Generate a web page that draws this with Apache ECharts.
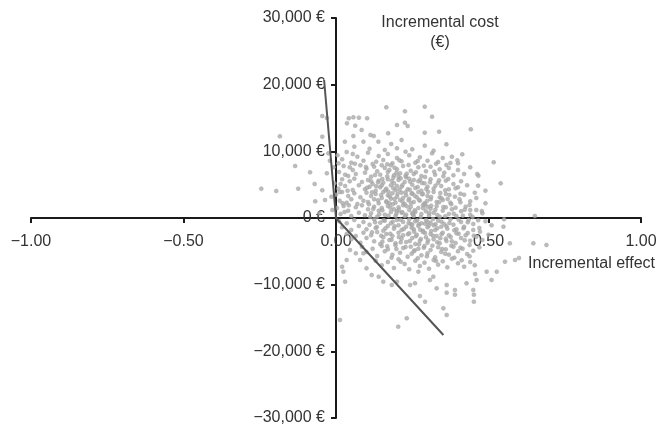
<!DOCTYPE html>
<html>
<head>
<meta charset="utf-8">
<script src="https://cdn.jsdelivr.net/npm/echarts@6/dist/echarts.min.js"></script>
<style>
  html, body { margin: 0; padding: 0; background: #fff; }
  #chart { width: 656px; height: 428px; }
</style>
</head>
<body>
<div id="chart"></div>
<script>
// ticks
const effectTicks = [-1, -0.5, 0, 0.5, 1];
const costTicks = [-30000, -20000, -10000, 0, 10000, 20000, 30000];

// willingness-to-pay / threshold line drawn through the origin
const thresholdLine = [[-0.039, 20700], [0, 0], [0.352, -17550]];

// simulated pairs [incremental effect, incremental cost], read off the plane
const westPoints = [
  [-0.045,15300],[-0.03,15000],[-0.184,12250],[-0.045,12200],[-0.134,7800],[-0.245,4400],
  [-0.196,4050],[-0.124,4400],[-0.07,5100],[-0.085,6850],[-0.068,2500],[-0.045,4150],
  [-0.03,6700],[-0.025,9700],[-0.055,700],[-0.036,2700],[-0.008,7600],[-0.005,5200],
  [-0.015,3200],[-0.012,1200],[-0.02,8600]
];

const upperOutliers = [
  [0.165,16600],[0.226,16000],[0.291,16700],[0.315,15200],[0.442,13300],[0.338,12950],
  [0.291,12800],[0.226,14300],[0.235,13800],[0.2,13950],[0.042,14950],[0.057,15100],
  [0.075,15050],[0.102,14950],[0.036,14200],[0.063,13850],[0.084,13200],[0.113,12450],
  [0.124,12300],[0.057,12300],[0.029,11450],[0.09,11450],[0.139,11450],[0.171,12700],
  [0.181,11100],[0.215,11700],[0.362,11050],[0.291,10850],[0.228,9950],[0.2,10450],
  [0.517,8350],[0.54,5200],[0.49,4100],[0.466,4850],[0.455,3800],[0.414,9550],
  [0.38,9200],[0.4,8200],[0.467,6350],[0.49,2200],[0.463,6600],[0.478,1050],[0.44,1200]
];

const upperPoints = [
  // 8,000 - 10,500
  [0.005,9400],[0.02,8800],[0.035,9900],[0.05,8300],[0.07,9200],[0.09,8600],[0.105,9800],
  [0.12,8100],[0.14,9300],[0.155,8700],[0.17,9600],[0.185,8200],[0.2,9000],[0.215,8500],
  [0.24,9400],[0.26,8300],[0.275,9100],[0.3,8600],[0.315,9700],[0.335,8400],[0.35,9000],
  [0.375,8250],[0.16,10200],[0.11,10400],[0.06,10700],[0.25,10300],[0.32,10100],
  // 6,000 - 8,000
  [0.01,6900],[0.025,7800],[0.04,6300],[0.055,7200],[0.065,6600],[0.08,7900],[0.095,6800],
  [0.1,7400],[0.115,6200],[0.125,7700],[0.135,7000],[0.145,6500],[0.16,7500],[0.17,6900],
  [0.18,7900],[0.19,6400],[0.2,7300],[0.21,6700],[0.22,7800],[0.23,6100],[0.245,7100],
  [0.255,6600],[0.27,7600],[0.28,6300],[0.295,7000],[0.31,7700],[0.325,6500],[0.34,7300],
  [0.355,6800],[0.37,7500],[0.385,6400],[0.4,7200],[0.42,6600],[0.44,7600],[0.175,7200],
  [0.205,6200],[0.15,7900],
  // 4,000 - 6,000
  [0.008,4400],[0.02,5800],[0.03,4800],[0.045,5500],[0.055,4200],[0.06,5900],[0.075,4900],
  [0.085,5400],[0.095,4300],[0.105,5700],[0.11,4700],[0.12,5100],[0.13,4100],[0.14,5600],
  [0.145,4600],[0.155,5300],[0.165,4400],[0.17,5800],[0.18,4900],[0.19,5200],[0.195,4200],
  [0.205,5700],[0.215,4700],[0.225,5400],[0.235,4300],[0.24,5900],[0.25,5000],[0.26,4500],
  [0.27,5500],[0.28,4100],[0.29,5200],[0.3,4700],[0.31,5800],[0.32,4400],[0.335,5300],
  [0.345,4800],[0.36,5600],[0.37,4300],[0.385,5100],[0.4,4600],[0.41,5500],[0.43,4900],
  [0.15,4900],[0.2,4800],[0.115,5500],[0.255,5700],
  // 2,000 - 4,000
  [0.0,3500],[0.012,2600],[0.02,3900],[0.035,2300],[0.04,3300],[0.05,2800],[0.06,3700],
  [0.07,2100],[0.08,3100],[0.09,2600],[0.1,3800],[0.105,2400],[0.115,3300],[0.125,2800],
  [0.13,3600],[0.14,2200],[0.15,3000],[0.155,3900],[0.165,2500],[0.17,3400],[0.18,2900],
  [0.185,3700],[0.195,2300],[0.2,3200],[0.21,2700],[0.215,3800],[0.225,2100],[0.23,3400],
  [0.24,2900],[0.25,3700],[0.255,2400],[0.265,3100],[0.275,2600],[0.285,3600],[0.29,2200],
  [0.3,3300],[0.31,2800],[0.32,3900],[0.33,2400],[0.34,3100],[0.35,2700],[0.36,3600],
  [0.375,2300],[0.39,3200],[0.405,2800],[0.42,3500],[0.44,2500],[0.46,3000],[0.175,2200],
  [0.22,3000],[0.27,3900],
  // 0 - 2,000
  [0.003,1500],[0.015,600],[0.025,1800],[0.04,1100],[0.05,300],[0.065,1600],[0.075,800],
  [0.085,1900],[0.095,400],[0.105,1300],[0.115,700],[0.125,1700],[0.135,200],[0.14,1100],
  [0.15,1500],[0.16,500],[0.17,1800],[0.18,900],[0.19,1300],[0.195,300],[0.205,1600],
  [0.215,800],[0.22,1900],[0.23,500],[0.24,1200],[0.245,1700],[0.255,300],[0.26,900],
  [0.27,1500],[0.28,600],[0.285,1900],[0.295,1000],[0.305,400],[0.31,1400],[0.32,800],
  [0.33,1800],[0.34,200],[0.35,1100],[0.36,1600],[0.37,600],[0.38,1300],[0.395,300],
  [0.41,1000],[0.425,1700],[0.44,500],[0.46,1200],[0.48,700],[0.2,1000],[0.25,700],
  [0.3,1700],[0.652,300]
];

const lowerPoints = [
  // 0 - -2,000
  [0.01,-500],[0.02,-1400],[0.035,-800],[0.05,-1800],[0.06,-300],[0.075,-1200],[0.09,-600],
  [0.1,-1700],[0.11,-1000],[0.125,-200],[0.13,-1500],[0.145,-700],[0.155,-1900],[0.16,-400],
  [0.17,-1200],[0.18,-800],[0.19,-1600],[0.2,-300],[0.205,-1100],[0.215,-1800],[0.22,-600],
  [0.23,-1300],[0.24,-200],[0.245,-900],[0.255,-1700],[0.26,-500],[0.27,-1200],[0.28,-800],
  [0.285,-1900],[0.295,-300],[0.3,-1400],[0.31,-700],[0.32,-1100],[0.325,-1800],[0.335,-400],
  [0.345,-1300],[0.355,-900],[0.365,-1600],[0.375,-200],[0.385,-1000],[0.395,-1700],
  [0.41,-600],[0.42,-1300],[0.435,-300],[0.45,-900],[0.47,-1500],[0.49,-500],[0.51,-1100],
  [0.25,-1000],[0.3,-600],[0.551,-200],
  // -2,000 - -4,000
  [0.035,-2400],[0.05,-3200],[0.065,-2700],[0.08,-3700],[0.09,-2200],[0.1,-3000],
  [0.115,-2600],[0.125,-3500],[0.135,-2100],[0.145,-3900],[0.155,-2900],[0.165,-2400],
  [0.175,-3300],[0.185,-2700],[0.195,-3800],[0.205,-2200],[0.215,-3100],[0.22,-2600],
  [0.23,-3600],[0.24,-2300],[0.25,-3000],[0.26,-3900],[0.265,-2500],[0.275,-3400],
  [0.285,-2100],[0.295,-2900],[0.3,-3700],[0.31,-2400],[0.32,-3200],[0.33,-2700],
  [0.34,-3800],[0.35,-2200],[0.36,-3100],[0.37,-2600],[0.38,-3500],[0.395,-2300],
  [0.41,-3000],[0.425,-2600],[0.44,-3400],[0.46,-2800],[0.48,-3300],[0.5,-2500],
  [0.45,-1800],[0.549,-1300],[0.57,-3800],[0.647,-3800],[0.69,-4050],
  // -4,000 - -6,000
  [0.085,-4300],[0.1,-5100],[0.12,-4600],[0.135,-5700],[0.15,-4200],[0.16,-5000],
  [0.17,-4700],[0.185,-5500],[0.195,-4100],[0.21,-5200],[0.22,-4500],[0.235,-5800],
  [0.245,-4300],[0.255,-5000],[0.27,-4600],[0.28,-5600],[0.29,-4200],[0.3,-5300],
  [0.31,-4800],[0.325,-5900],[0.335,-4400],[0.345,-5100],[0.36,-4700],[0.37,-5500],
  [0.385,-4300],[0.4,-5000],[0.415,-4600],[0.43,-5400],[0.45,-4900],[0.47,-4400],
  [0.046,-4800],[0.065,-5300],[0.09,-5300],
  // -6,000 - -8,000
  [0.13,-6400],[0.15,-7100],[0.17,-6600],[0.19,-7500],[0.205,-6200],[0.225,-6900],
  [0.24,-7700],[0.26,-6400],[0.275,-7200],[0.29,-6700],[0.305,-7600],[0.32,-6300],
  [0.335,-7000],[0.35,-6500],[0.365,-7400],[0.38,-6100],[0.4,-6800],[0.42,-7300],
  [0.44,-6600],[0.455,-7100],[0.554,-6550],[0.587,-6300],[0.6,-6000],[0.035,-6300],
  [0.079,-6300],[0.1,-7550],[0.02,-7300]
];

const lowerOutliers = [
  [0.527,-8050],[0.494,-8050],[0.461,-9300],[0.456,-8400],[0.51,-9300],[0.45,-10800],
  [0.452,-11500],[0.452,-12550],[0.428,-9800],[0.39,-10800],[0.39,-11500],[0.363,-10050],
  [0.363,-11200],[0.363,-14550],[0.352,-13550],[0.33,-10550],[0.308,-9300],[0.319,-8800],
  [0.292,-12550],[0.27,-8050],[0.275,-11700],[0.259,-9800],[0.243,-10050],[0.232,-15050],
  [0.204,-16300],[0.183,-10050],[0.2,-9550],[0.155,-9550],[0.14,-8800],[0.117,-8550],
  [0.024,-8050],[0.03,-9550],[0.013,-15300]
];

// extra points filling the dense middle of the cloud
const corePoints = [
  [0.062,8150],[0.098,7650],[0.132,8450],[0.168,8050],[0.208,8650],[0.238,7950],[0.268,8550],
  [0.288,7850],[0.328,8150],[0.362,7950],[0.398,8650],[0.192,7550],
  [0.008,8200],[0.015,5100],[0.022,2200],[0.03,6500],[0.038,4100],[0.045,7600],[0.012,3900],
  [0.028,900],[0.055,9600],[0.042,1900],
  [0.128,6450],[0.152,5850],[0.168,6250],[0.183,5550],[0.198,6750],[0.212,5950],[0.228,6350],
  [0.243,5450],[0.262,6850],[0.276,5750],[0.292,6150],[0.308,5350],[0.322,6950],[0.338,5650],
  [0.352,6250],[0.368,5850],[0.138,5350],[0.188,6050],[0.232,6650],[0.282,5250],
  [0.102,4550],[0.118,3850],[0.132,4750],[0.148,3450],[0.162,4150],[0.176,3250],[0.188,4450],
  [0.202,3650],[0.218,4950],[0.228,3850],[0.242,4250],[0.258,3350],[0.268,4650],[0.282,3550],
  [0.296,4350],[0.312,3150],[0.326,4850],[0.342,3750],[0.358,4150],[0.372,3450],[0.392,4450],
  [0.408,3650],[0.172,3950],[0.208,4250],[0.248,3650],[0.302,3950],
  [0.108,2050],[0.122,1350],[0.138,2650],[0.152,1150],[0.166,2350],[0.178,1550],[0.192,2850],
  [0.206,1250],[0.218,2450],[0.232,1750],[0.246,2250],[0.258,1150],[0.272,2750],[0.286,1450],
  [0.298,2550],[0.312,1850],[0.326,1250],[0.338,2350],[0.352,1650],[0.366,2850],[0.378,2050],
  [0.392,1550],[0.408,2350],[0.422,1250],[0.438,1950],[0.186,2050],[0.238,2650],[0.292,2050],
  [0.346,2950],
  [0.112,150],[0.128,-650],[0.142,550],[0.156,-350],[0.172,350],[0.186,-550],[0.198,650],
  [0.212,-250],[0.226,250],[0.238,-750],[0.252,550],[0.266,-350],[0.278,150],[0.292,-850],
  [0.306,750],[0.318,-150],[0.332,450],[0.346,-550],[0.358,250],[0.372,-750],[0.386,650],
  [0.402,-250],[0.416,350],[0.432,-650],[0.448,150],[0.466,-350],[0.218,850],[0.272,-950],
  [0.326,-950],
  [0.118,-2150],[0.134,-1350],[0.148,-2650],[0.162,-1550],[0.178,-2350],[0.192,-1250],
  [0.206,-2850],[0.222,-1650],[0.236,-2450],[0.248,-1450],[0.262,-2750],[0.276,-1750],
  [0.292,-2250],[0.304,-1150],[0.318,-2650],[0.332,-1550],[0.346,-2450],[0.362,-1250],
  [0.376,-2850],[0.388,-1850],[0.402,-2350],[0.418,-1550],[0.432,-2250],[0.452,-2650],
  [0.472,-2050],[0.256,-2050],[0.312,-1950],
  [0.152,-3550],[0.168,-4250],[0.182,-3250],[0.198,-4650],[0.212,-3650],[0.228,-4350],
  [0.242,-3450],[0.258,-4850],[0.272,-3950],[0.288,-4450],[0.302,-3350],[0.316,-4150],
  [0.332,-3650],[0.348,-4650],[0.362,-3450],[0.378,-4150],[0.392,-3750],[0.408,-4450],
  [0.422,-3350],[0.438,-4050],[0.278,-3150],[0.342,-3050],
  [0.182,-5950],[0.212,-6550],[0.248,-5350],[0.268,-6050],[0.298,-5750],[0.328,-6450],
  [0.358,-5350],[0.388,-5950],[0.412,-6350],[0.438,-5750]
];

const simulations = westPoints.concat(upperOutliers, upperPoints, corePoints, lowerPoints, lowerOutliers);

const fmtMinus = s => s.replace('-', '\u2212');

// plot box, axes cross in its middle
const gridLeft = 31, gridRight = 15, gridTop = 18, gridBottom = 10;
const plotW = 656 - gridLeft - gridRight;
const plotH = 428 - gridTop - gridBottom;

const chart = echarts.init(document.getElementById('chart'));
chart.setOption({
  animation: false,
  textStyle: { fontFamily: 'Liberation Sans, Arial, sans-serif' },
  grid: {
    left: gridLeft, right: gridRight, top: gridTop, bottom: gridBottom,
    containLabel: false, outerBoundsMode: 'none'
  },
  graphic: [{
    type: 'text',
    x: 440,
    y: 13,
    style: {
      text: 'Incremental cost\n(€)',
      align: 'center',
      verticalAlign: 'top',
      fontSize: 16,
      lineHeight: 20,
      fill: '#333',
      fontFamily: 'Liberation Sans, Arial, sans-serif'
    }
  }],
  xAxis: {
    type: 'value',
    min: effectTicks[0],
    max: effectTicks[effectTicks.length - 1],
    interval: 0.5,
    position: 'bottom',
    offset: -plotH / 2,
    name: 'Incremental effect',
    nameLocation: 'end',
    nameGap: 14,
    nameTextStyle: { align: 'right', verticalAlign: 'top', padding: [38, 0, 0, 0], fontSize: 16, color: '#333' },
    axisLine: { onZero: false, lineStyle: { color: '#1a1a1a', width: 2 } },
    axisTick: { show: true, length: 5, lineStyle: { color: '#1a1a1a', width: 2 } },
    axisLabel: { margin: 16, fontSize: 16, color: '#333', formatter: v => fmtMinus(v.toFixed(2)) },
    splitLine: { show: false }
  },
  yAxis: {
    type: 'value',
    min: costTicks[0],
    max: costTicks[costTicks.length - 1],
    interval: 10000,
    position: 'left',
    offset: -plotW / 2,
    axisLine: { onZero: false, lineStyle: { color: '#1a1a1a', width: 2 } },
    axisTick: { show: true, length: 5, lineStyle: { color: '#1a1a1a', width: 2 } },
    axisLabel: { margin: 11, fontSize: 16, color: '#333', formatter: v => fmtMinus(v.toLocaleString('en-US')) + ' €' },
    splitLine: { show: false }
  },
  series: [
    {
      type: 'scatter',
      data: simulations,
      symbolSize: 4,
      itemStyle: { color: '#ababab', borderColor: '#9a9a9a', borderWidth: 0.5 },
      z: 2
    },
    {
      type: 'line',
      data: thresholdLine,
      showSymbol: false,
      lineStyle: { color: '#555', width: 2 },
      z: 3
    }
  ]
});
</script>
</body>
</html>
